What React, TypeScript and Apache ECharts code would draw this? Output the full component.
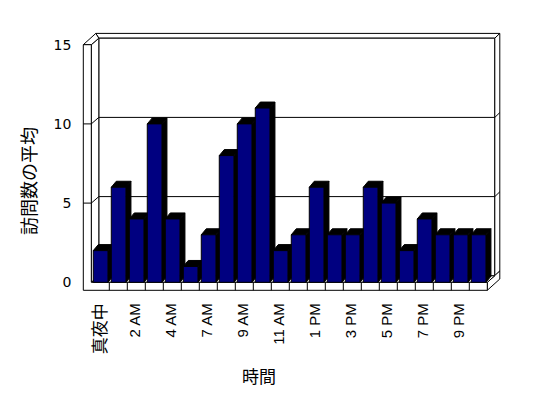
import React, { useEffect, useRef } from "react";
import * as echarts from "echarts";

const categories = [
  "真夜中", "1 AM", "2 AM", "3 AM", "4 AM", "6 AM", "7 AM", "8 AM", "9 AM", "10 AM", "11 AM",
  "12 PM", "1 PM", "2 PM", "3 PM", "4 PM", "5 PM", "6 PM", "7 PM", "8 PM", "9 PM", "10 PM",
];
const visits = [2, 6, 4, 10, 4, 1, 3, 8, 10, 11, 2, 3, 6, 3, 3, 6, 5, 2, 4, 3, 3, 3];
const yTicks = [0, 5, 10, 15];
const yTitle = "訪問数の平均";
const xTitle = "時間";

const LATIN = "'DejaVu Sans', sans-serif";
const XFONT = "'Liberation Sans', Arial, sans-serif";
const CJK = "'Noto Sans CJK JP', sans-serif";

export default function App() {
  const ref = useRef<HTMLDivElement>(null);
  useEffect(() => {
    if (!ref.current) return;
    const chart = echarts.init(ref.current, undefined, { renderer: "svg" });
    const D = [7.5, -6.5];
    const T2 = [5, -4.8];
    const WALL = 8;
    const line = { stroke: "#000", lineWidth: 1 };
    const face = { fill: "#fff", stroke: "#000", lineWidth: 1 };

    const frameRender = (params: any, api: any) => {
      const cs = params.coordSys;
      const L = cs.x, R = cs.x + cs.width;
      const T = api.coord([0, yTicks[yTicks.length - 1]])[1];
      const B = api.coord([0, 0])[1];
      const w = cs.width / categories.length;
      const Dx = D[0], Dy = D[1], tx = T2[0], ty = T2[1];
      const ch: any[] = [];
      ch.push({ type: "polygon", shape: { points: [[L - WALL + Dx + tx, T + Dy + ty], [R + Dx + tx, T + Dy + ty], [R + Dx, T + Dy], [L + Dx, T + Dy]] }, style: face });
      ch.push({ type: "rect", shape: { x: L + Dx, y: T + Dy, width: R - L, height: B - T }, style: face });
      ch.push({ type: "polygon", shape: { points: [[R + Dx, T + Dy], [R + Dx + tx, T + Dy + ty], [R + Dx + tx, B + Dy + ty], [R + Dx, B + Dy]] }, style: face });
      ch.push({ type: "polygon", shape: { points: [[R, B], [R + Dx + tx, B + Dy + ty], [R + Dx + tx, B + WALL + Dy + ty], [R, B + WALL]] }, style: face });
      ch.push({ type: "polygon", shape: { points: [[L, B], [R, B], [R + Dx, B + Dy], [L + Dx, B + Dy]] }, style: face });
      ch.push({ type: "polygon", shape: { points: [[L, T], [L + Dx, T + Dy], [L + Dx, B + Dy], [L, B]] }, style: face });
      ch.push({ type: "polygon", shape: { points: [[L - WALL, T], [L, T], [L + Dx, T + Dy], [L - WALL + Dx + tx, T + Dy + ty]] }, style: face });
      ch.push({ type: "polygon", shape: { points: [[L - WALL, T], [L, T], [L, B], [R, B], [R, B + WALL], [L - WALL, B + WALL]] }, style: face });
      for (let k = 1; k < categories.length; k++) {
        const x = L + k * w;
        ch.push({ type: "line", shape: { x1: x, y1: B, x2: x, y2: B + WALL }, style: line });
      }
      yTicks.slice(1, -1).forEach((v) => {
        const y = api.coord([0, v])[1];
        ch.push({ type: "polyline", shape: { points: [[L - WALL, y], [L, y], [L + Dx, y + Dy], [R + Dx, y + Dy], [R + Dx + tx, y + Dy + ty]] }, style: { ...line, fill: "none" } });
      });
      return { type: "group", children: ch };
    };

    const labelRender = (params: any, api: any) => {
      const idx = api.value(0);
      const name = categories[idx];
      const x = api.coord([idx, 0])[0] - 2;
      const B = api.coord([idx, 0])[1];
      const isCjk = /[\u3000-\u9fff]/.test(name);
      return {
        type: "text",
        x,
        y: B + 21,
        rotation: Math.PI / 2,
        style: {
          text: name,
          fontFamily: isCjk ? CJK : XFONT,
          fontSize: isCjk ? 17 : 15,
          fill: "#000000",
          align: "right",
          verticalAlign: "middle",
        },
      };
    };

    const barRender = (params: any, api: any) => {
      const idx = api.value(0);
      const v = api.value(1);
      const c = api.coord([idx, v]);
      const base = api.coord([idx, 0]);
      const w = api.size([1, 0])[0];
      const left = c[0] - w / 2 + w * 0.11;
      const bw = w * 0.815;
      const top = c[1], bot = base[1];
      const dx = 5, dy = -6;
      const dark = { fill: "#000", stroke: "#000", lineWidth: 1 };
      return {
        type: "group",
        children: [
          { type: "polygon", shape: { points: [[left + bw, bot], [left + bw + dx, bot + dy], [left + bw + dx, top + dy], [left + bw, top]] }, style: dark },
          { type: "polygon", shape: { points: [[left, top], [left + dx, top + dy], [left + bw + dx, top + dy], [left + bw, top]] }, style: dark },
          { type: "rect", shape: { x: left, y: top, width: bw, height: bot - top }, style: { fill: "#000080", stroke: "#000", lineWidth: 1 } },
        ],
      };
    };

    chart.setOption({
      animation: false,
      backgroundColor: "#fff",
      grid: { left: 91.3, right: 60.7, top: 44.7, bottom: 115.7 },
      xAxis: {
        type: "category",
        data: categories,
        axisLine: { show: false },
        axisTick: { show: false },
        splitLine: { show: false },
        axisLabel: { show: false },
      },
      yAxis: {
        type: "value",
        min: 0,
        max: 15,
        interval: 5,
        axisLine: { show: false },
        axisTick: { show: false },
        splitLine: { show: false },
        axisLabel: { margin: 20, color: "#000", fontFamily: LATIN, fontSize: 14 },
      },
      graphic: [
        { type: "text", x: 27.5, y: 181, rotation: Math.PI / 2, style: { text: yTitle, fontFamily: CJK, fontSize: 18, fill: "#000", align: "center", verticalAlign: "middle" } },
        { type: "text", x: 259, y: 375.5, style: { text: xTitle, fontFamily: CJK, fontSize: 17, fill: "#000", align: "center", verticalAlign: "middle" } },
      ],
      series: [
        { type: "custom", z: 1, renderItem: frameRender, data: [[0, 0]], encode: { x: 0, y: 1 }, silent: true, clip: false },
        { type: "custom", z: 2, renderItem: barRender, data: visits.map((v, i) => [i, v]), encode: { x: 0, y: 1 } },
        {
          type: "custom", z: 3, renderItem: labelRender, clip: false, silent: true,
          data: categories.map((_, i) => [i, 0]).filter((d) => d[0] % 2 === 0),
          encode: { x: 0, y: 1 },
        },
      ],
    });
    return () => chart.dispose();
  }, []);
  return <div ref={ref} style={{ position: "fixed", left: 0, top: 0, width: 548, height: 398 }} />;
}
